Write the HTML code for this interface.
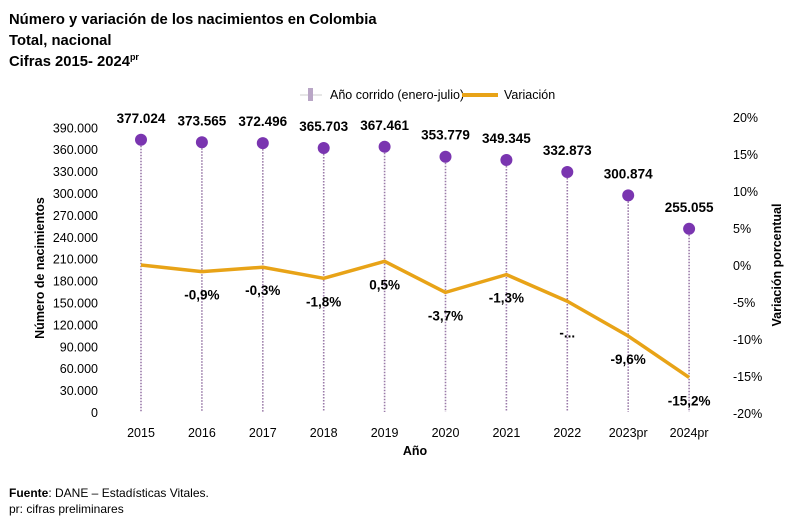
<!DOCTYPE html>
<html><head><meta charset="utf-8"><style>
body{margin:0;background:#fff;font-family:"Liberation Sans",sans-serif;}
svg text{font-family:"Liberation Sans",sans-serif;}
</style></head><body>
<svg width="794" height="527" xmlns="http://www.w3.org/2000/svg" id="chart">
<g font-weight="bold" font-size="14.8" fill="#000">
<text x="9" y="24">Número y variación de los nacimientos en Colombia</text>
<text x="9" y="45">Total, nacional</text>
<text x="9" y="66">Cifras 2015- 2024<tspan font-size="9" dy="-6">pr</tspan></text>
</g>
<g font-size="12.5">
<line x1="300" y1="95" x2="322" y2="95" stroke="#ccc" stroke-width="1"/>
<rect x="308" y="88" width="5" height="13" fill="#b9a6c6"/>
<text x="330" y="99">Año corrido (enero-julio)</text>
<line x1="462" y1="95" x2="498" y2="95" stroke="#e8a317" stroke-width="4"/>
<text x="504" y="99">Variación</text>
</g>
<g id="axes"></g>
<g id="marks"></g>
<text x="44" y="268" font-size="12.5" font-weight="bold" transform="rotate(-90 44 268)" text-anchor="middle">Número de nacimientos</text>
<text x="781" y="265" font-size="12.5" font-weight="bold" transform="rotate(-90 781 265)" text-anchor="middle">Variación porcentual</text>
<text x="415" y="455" font-size="12.5" font-weight="bold" text-anchor="middle">Año</text>
<g font-size="12">
<text x="9" y="497"><tspan font-weight="bold">Fuente</tspan>: DANE – Estadísticas Vitales.</text>
<text x="9" y="513">pr: cifras preliminares</text>
</g>
</svg>
<script>
const years=["2015","2016","2017","2018","2019","2020","2021","2022","2023pr","2024pr"];
const births=[377024,373565,372496,365703,367461,353779,349345,332873,300874,255055];
const birthLabels=["377.024","373.565","372.496","365.703","367.461","353.779","349.345","332.873","300.874","255.055"];
const variation=[0,-0.9,-0.3,-1.8,0.5,-3.7,-1.3,-4.9,-9.6,-15.2];
const variationLabels=["","-0,9%","-0,3%","-1,8%","0,5%","-3,7%","-1,3%","-...","-9,6%","-15,2%"];
const leftTicks=[0,30000,60000,90000,120000,150000,180000,210000,240000,270000,300000,330000,360000,390000];
const leftTickLabels=["0","30.000","60.000","90.000","120.000","150.000","180.000","210.000","240.000","270.000","300.000","330.000","360.000","390.000"];
const rightTicks=[-20,-15,-10,-5,0,5,10,15,20];
const rightTickLabels=["-20%","-15%","-10%","-5%","0%","5%","10%","15%","20%"];
const NS="http://www.w3.org/2000/svg";
const x=i=>141+i*60.9;
const yL=v=>415-v*0.00073;
const yR=v=>265-v*7.4;
function mk(tag,attrs,parent,txt){const e=document.createElementNS(NS,tag);for(const k in attrs)e.setAttribute(k,attrs[k]);if(txt!==undefined)e.textContent=txt;parent.appendChild(e);return e;}
const axes=document.getElementById('axes'),marks=document.getElementById('marks');
leftTicks.forEach((t,i)=>{const e=mk('text',{x:98,y:yL(t)+2,'font-size':12.5,'text-anchor':'end'},axes,leftTickLabels[i]);

});
rightTicks.forEach((t,i)=>{const e=mk('text',{x:733,y:yR(t)+5,'font-size':12.5},axes,rightTickLabels[i]);

});
years.forEach((yr,i)=>{const e=mk('text',{x:x(i),y:437,'font-size':12.5,'text-anchor':'middle'},axes,yr);

});
births.forEach((v,i)=>{
const s=mk('line',{x1:x(i),x2:x(i),y1:yL(v),y2:412,stroke:'#9a7aa8','stroke-width':1.6,'stroke-dasharray':'1.5 1.5'},marks);


const c=mk('circle',{cx:x(i),cy:yL(v),r:6,fill:'#7a35b0'},marks);


const t=mk('text',{x:x(i),y:yL(v)-17,'font-size':13.5,'font-weight':'bold','text-anchor':'middle'},marks,birthLabels[i]);

});
const p=mk('polyline',{points:variation.map((v,i)=>x(i)+','+yR(v)).join(' '),fill:'none',stroke:'#e8a317','stroke-width':3.5,'stroke-linejoin':'round'},marks);


variation.forEach((v,i)=>{if(!variationLabels[i])return;
const t=mk('text',{x:x(i),y:yR(v)+(i==7?36:28),'font-size':13.5,'font-weight':'bold','text-anchor':'middle'},marks,variationLabels[i]);

});
</script>
</body></html>
